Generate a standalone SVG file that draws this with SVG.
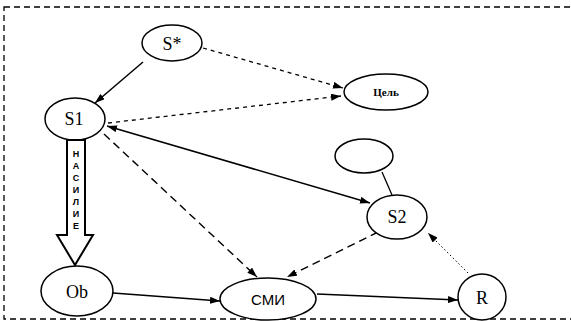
<svg xmlns="http://www.w3.org/2000/svg" width="571" height="321" viewBox="0 0 571 321">
<defs>
<marker id="ah" viewBox="0 0 10 7" refX="10" refY="3.5" markerWidth="10" markerHeight="7" markerUnits="userSpaceOnUse" orient="auto-start-reverse">
<path d="M0,0 L10,3.5 L0,7 Z" fill="#000"/>
</marker>
</defs>
<style>
.node{fill:#fff;stroke:#000;stroke-width:1.5}
.serif{font-family:"Liberation Serif","Times New Roman",serif;font-size:18px;fill:#000;text-anchor:middle}
.sans{font-family:"Liberation Sans",Arial,sans-serif;fill:#000;text-anchor:middle}
.solid{stroke:#000;stroke-width:1.5;fill:none;marker-end:url(#ah)}
.sdash{stroke:#000;stroke-width:1.3;fill:none;stroke-dasharray:4 4;marker-end:url(#ah)}
.ldash{stroke:#000;stroke-width:1.4;fill:none;stroke-dasharray:8 5;marker-end:url(#ah)}
.dot{stroke:#000;stroke-width:1;fill:none;stroke-dasharray:1.5 2.5;marker-end:url(#ah)}
</style>
<rect width="571" height="321" fill="#fff"/>
<rect x="4" y="7" width="570" height="312" fill="none" stroke="#000" stroke-width="1.3" stroke-dasharray="6 4"/>
<g id="connectors">
<line class="solid" x1="143" y1="62" x2="95" y2="103"/>
<line class="sdash" x1="203" y1="48" x2="343" y2="88"/>
<line class="sdash" x1="108" y1="123" x2="341" y2="96"/>
<line class="solid" x1="107" y1="126" x2="370" y2="203" marker-start="url(#ah)"/>
<line class="ldash" x1="104" y1="134" x2="257" y2="277"/>
<line class="ldash" x1="378" y1="232" x2="287" y2="277"/>
<line class="dot" x1="468" y1="273" x2="428" y2="233"/>
<line class="solid" x1="113" y1="293" x2="220" y2="301"/>
<line class="solid" x1="317" y1="294" x2="458" y2="300"/>
<line x1="382" y1="172" x2="392" y2="195" stroke="#000" stroke-width="1.3"/>
</g>
<g id="node-sstar">
<ellipse class="node" cx="172" cy="43" rx="30" ry="18"/>
<text class="serif" x="172" y="50">S*</text>
</g>
<g id="node-goal">
<ellipse class="node" cx="386" cy="92" rx="42" ry="18"/>
<text class="serif" x="386" y="96" style="font-size:11px;font-weight:bold">Цель</text>
</g>
<g id="node-empty">
<ellipse class="node" cx="364" cy="156" rx="29" ry="17"/>
</g>
<g id="node-s1">
<ellipse class="node" cx="75" cy="119" rx="30" ry="21"/>
<text class="serif" x="74" y="125">S1</text>
</g>
<g id="node-s2">
<ellipse class="node" cx="397" cy="217" rx="30" ry="22"/>
<text class="serif" x="397" y="223">S2</text>
</g>
<g id="violence-arrow">
<path d="M67,140 L85,140 L85,235 L93,235 L75,265 L57,235 L67,235 Z" fill="#fff" stroke="#000" stroke-width="2"/>
<g class="sans" style="font-size:9px;font-weight:bold">
<text x="76" y="157">Н</text>
<text x="76" y="169">А</text>
<text x="76" y="181">С</text>
<text x="76" y="193">И</text>
<text x="76" y="205">Л</text>
<text x="76" y="217">И</text>
<text x="76" y="229">Е</text>
</g>
</g>
<g id="node-ob">
<ellipse class="node" cx="77" cy="291" rx="36" ry="25"/>
<text class="serif" x="77" y="298">Ob</text>
</g>
<g id="node-smi">
<ellipse class="node" cx="268" cy="299" rx="48" ry="21"/>
<text class="sans" x="268" y="305" style="font-size:15px">СМИ</text>
</g>
<g id="node-r">
<ellipse class="node" cx="482" cy="297" rx="24" ry="23"/>
<text class="serif" x="482" y="304">R</text>
</g>
</svg>
